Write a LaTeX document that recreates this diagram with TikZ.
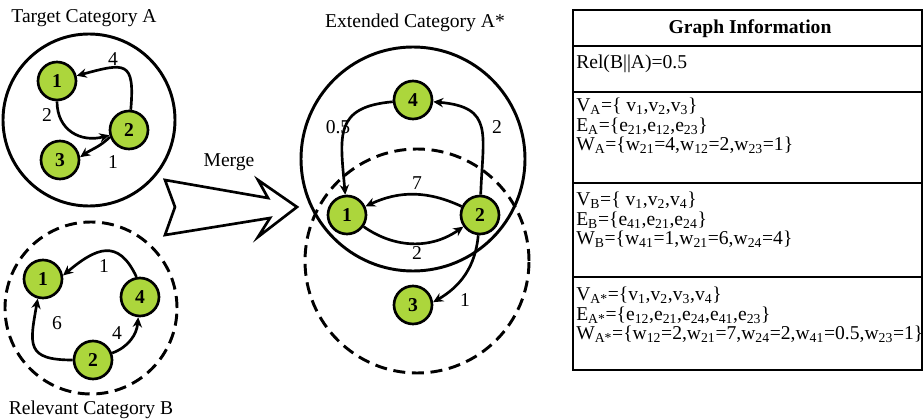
\documentclass[tikz,border=0pt]{standalone}
\usepackage{fontspec}
\setmainfont{Liberation Serif}
\usetikzlibrary{arrows.meta}
\definecolor{vgreen}{RGB}{172,214,60}

\begin{document}
\begin{tikzpicture}[x=0.75pt,y=-0.75pt,
  txt/.style={font=\fontsize{14.7}{15}\selectfont, inner sep=0pt},
  vtx/.style={circle,draw,line width=2pt,fill=vgreen,minimum size=28.5pt,inner sep=0pt,
              font=\fontsize{14.7}{15}\selectfont\bfseries},
  edge/.style={line width=2pt,-{Stealth[length=7.5pt,width=7pt]}},
  ring/.style={line width=2.2pt},
  dashring/.style={line width=2.2pt,dash pattern=on 9pt off 5pt},
  cell/.style={anchor=west,align=left,inner sep=0pt,font=\fontsize{14.7}{14.6}\selectfont},
  rule/.style={line width=2.2pt}
]
\useasboundingbox (0,0) rectangle (924,420);

% ---------- Target category A ----------
\node[txt] (titleA) at (84,18) {Target Category A};
\draw[ring] (89,120) circle [radius=64.5pt];
\node[vtx] (a1) at (57,81) {1};
\node[vtx] (a2) at (129,130) {2};
\node[vtx] (a3) at (60,160) {3};
\draw[edge] (a2) to[out=85,in=15,looseness=2] (a1);
\draw[edge] (a1) to[out=-90,in=195,looseness=1.2] (a2);
\draw[edge] (a2.200) to[out=225,in=35] (a3.8);
\node[txt] (wa21) at (113,59) {4};
\node[txt] (wa12) at (47,115) {2};
\node[txt] (wa23) at (113,162) {1};

% ---------- Relevant category B ----------
\draw[dashring] (91,308) circle [radius=64.5pt];
\node[vtx] (b1) at (43,279) {1};
\node[vtx] (b4) at (140,297) {4};
\node[vtx] (b2) at (93,360) {2};
\draw[edge] (b4.100) to[out=115,in=40,looseness=1.5] (b1.10);
\draw[edge] (b2) to[out=180,in=-100,looseness=1.7] (b1.255);
\draw[edge] (b2) to[out=20,in=-95] (b4);
\node[txt] (wb41) at (104,266) {1};
\node[txt] (wb21) at (57,323) {6};
\node[txt] (wb24) at (117,333) {4};
\node[txt] (titleB) at (91,410) {Relevant Category B};

% ---------- Merge arrow ----------
\draw[line width=2pt,line join=miter] (165,180) -- (268,198) -- (258,180) -- (297,207)
  -- (258,237) -- (270,218) -- (165,235) -- (175,207) -- cycle;
\node[txt] (merge) at (229,162) {Merge};

% ---------- Extended category A* ----------
\node[txt] (titleX) at (415,23) {Extended Category A*};
\draw[ring] (413,159) circle [radius=84pt];
\draw[dashring] (417,261) circle [radius=84pt];
\node[vtx] (s4) at (413,100) {4};
\node[vtx] (s1) at (347,215) {1};
\node[vtx] (s2) at (480,215) {2};
\node[vtx] (s3) at (413,305) {3};
\draw[edge] (s4) to[out=185,in=95,looseness=1.45] (s1);
\draw[edge] (s2) to[out=88,in=-5,looseness=1.5] (s4);
\draw[edge] (s2) to[out=155,in=25] (s1);
\draw[edge] (s1) to[out=-35,in=-145] (s2);
\draw[edge] (s2) to[out=-95,in=30] (s3.8);
\node[txt] (wx41) at (338,127) {0.5};
\node[txt] (wx24) at (497,127) {2};
\node[txt] (wx21) at (417,183) {7};
\node[txt] (wx12) at (417,253) {2};
\node[txt] (wx23) at (465,300) {1};

% ---------- Graph information table ----------
\draw[rule] (573,10) rectangle (922,370);
\draw[rule] (573,46) -- (922,46);
\draw[rule] (573,92) -- (922,92);
\draw[rule] (573,183) -- (922,183);
\draw[rule] (573,277) -- (922,277);
\node[txt,font=\fontsize{14.7}{15}\selectfont\bfseries] (head) at (750,29) {Graph Information};
\node[cell] (rel) at (576,64) {Rel(B||A)=0.5};
\node[cell] (setA) at (576,126) {%
  V\textsubscript{A}=\{ v\textsubscript{1},v\textsubscript{2},v\textsubscript{3}\}\\
  E\textsubscript{A}=\{e\textsubscript{21},e\textsubscript{12},e\textsubscript{23}\}\\
  W\textsubscript{A}=\{w\textsubscript{21}=4,w\textsubscript{12}=2,w\textsubscript{23}=1\}};
\node[cell] (setB) at (576,220) {%
  V\textsubscript{B}=\{ v\textsubscript{1},v\textsubscript{2},v\textsubscript{4}\}\\
  E\textsubscript{B}=\{e\textsubscript{41},e\textsubscript{21},e\textsubscript{24}\}\\
  W\textsubscript{B}=\{w\textsubscript{41}=1,w\textsubscript{21}=6,w\textsubscript{24}=4\}};
\node[cell] (setX) at (576,315) {%
  V\textsubscript{A*}=\{v\textsubscript{1},v\textsubscript{2},v\textsubscript{3},v\textsubscript{4}\}\\
  E\textsubscript{A*}=\{e\textsubscript{12},e\textsubscript{21},e\textsubscript{24},e\textsubscript{41},e\textsubscript{23}\}\\
  W\textsubscript{A*}=\{w\textsubscript{12}=2,w\textsubscript{21}=7,w\textsubscript{24}=2,w\textsubscript{41}=0.5,w\textsubscript{23}=1\}};
\end{tikzpicture}
\end{document}
